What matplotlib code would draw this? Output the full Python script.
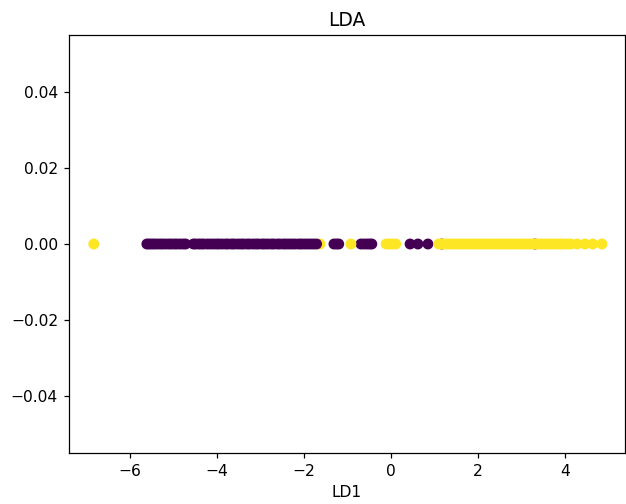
import matplotlib
matplotlib.use('Agg')
import matplotlib.pyplot as plt
import numpy as np

# ── Data (LD1 projections) ───────────────────────────────────────────────────
# points drawn first end up underneath the others
ld1_hidden   = [-1.63, 1.17, 3.31]
label_hidden = [1, 0, 0]

ld1_class0 = [-5.61, -5.56, -5.50, -5.44, -5.38, -5.31, -5.25, -5.18, -5.11,
              -5.05, -4.98, -4.92, -4.85, -4.78, -4.72, -4.54, -4.49, -4.42,
              -4.36, -4.30, -4.22, -4.15, -4.08, -4.01, -3.95, -3.88, -3.80,
              -3.74, -3.66, -3.60, -3.52, -3.45, -3.39, -3.31, -3.25, -3.17,
              -3.10, -3.04, -2.96, -2.90, -2.83, -2.75, -2.69, -2.61, -2.55,
              -2.47, -2.41, -2.34, -2.27, -2.20, -2.12, -2.06, -1.99, -1.92,
              -1.85, -1.78, -1.71, -1.31, -1.25, -1.20, -0.69, -0.62, -0.55,
              -0.49, -0.44, 0.44, 0.62, 0.85]

ld1_class1 = [-6.83, -0.92, -0.11, -0.04, 0.04, 0.11,
              1.10, 1.16, 1.23, 1.30, 1.37, 1.43, 1.50, 1.57, 1.64, 1.70,
              1.77, 1.84, 1.91, 1.97, 2.04, 2.11, 2.18, 2.24, 2.31, 2.38,
              2.45, 2.51, 2.58, 2.65, 2.72, 2.78, 2.85, 2.92, 2.99, 3.05,
              3.12, 3.19, 3.26, 3.33, 3.39, 3.46, 3.53, 3.60, 3.66, 3.73,
              3.80, 3.87, 3.93, 4.00, 4.07, 4.13, 4.28, 4.46, 4.64, 4.85]

ld1 = np.array(ld1_hidden + ld1_class0 + ld1_class1)
labels = np.array(label_hidden + [0] * len(ld1_class0) + [1] * len(ld1_class1))

# ── Figure ────────────────────────────────────────────────────────────────────
DPI = 112
fig = plt.figure(figsize=(626 / DPI, 504 / DPI), dpi=DPI)
ax = fig.add_axes([69 / 626, 1 - 453 / 504, 556 / 626, 418 / 504])

ax.scatter(ld1, np.zeros_like(ld1), c=labels, cmap='viridis')
ax.set_xlim(-7.40, 5.38)
ax.set_ylim(-0.055, 0.055)
ax.set_title("LDA")
ax.set_xlabel("LD1")

fig.savefig("out.png", dpi=DPI)
